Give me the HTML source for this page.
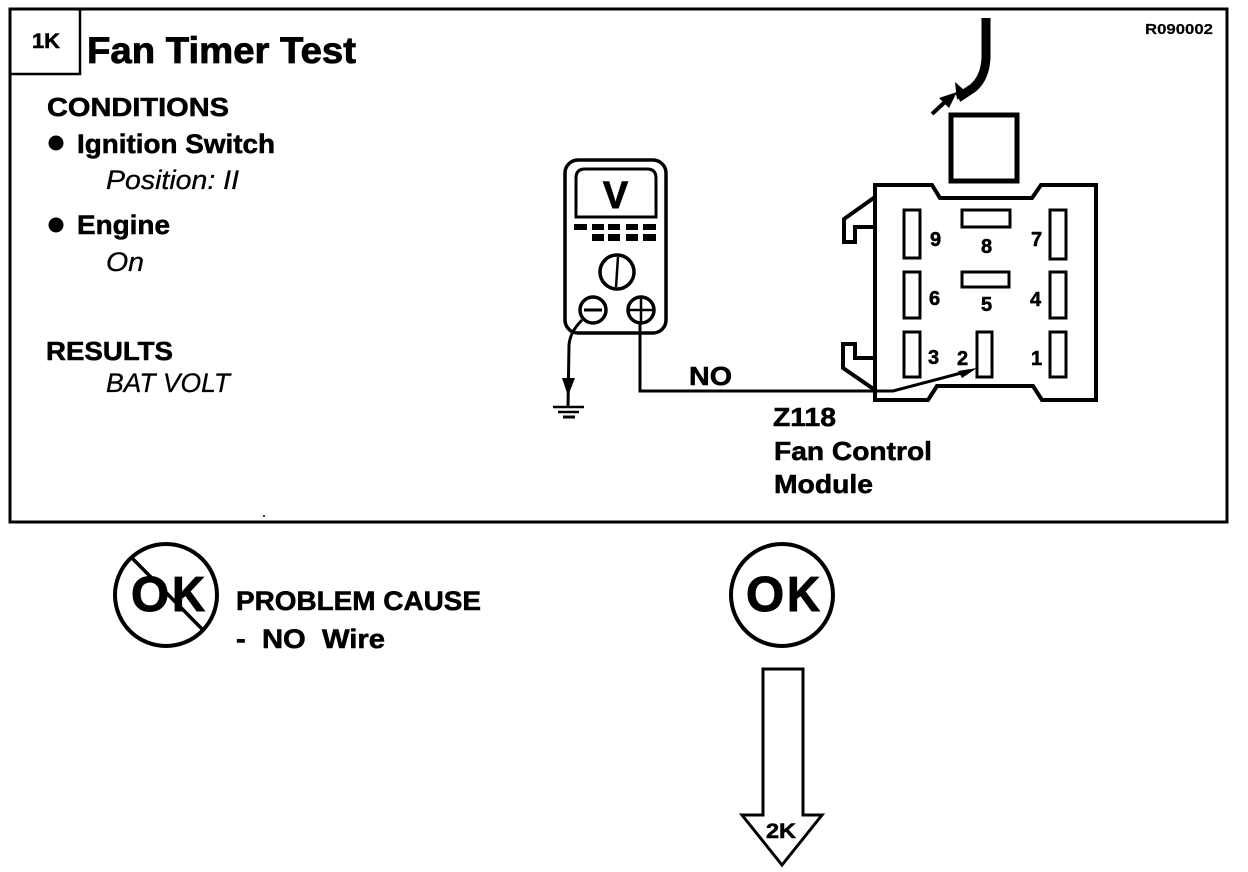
<!DOCTYPE html>
<html><head><meta charset="utf-8"><style>
html,body{margin:0;padding:0;background:#fff}
svg{display:block}
text{font-family:"Liberation Sans",sans-serif;font-weight:bold;fill:#000;stroke:#000;stroke-width:.55px}
.i{font-style:italic;font-weight:normal;stroke-width:.3px}
.s{fill:none;stroke:#000}
</style></head><body>
<svg width="1248" height="872" viewBox="0 0 1248 872" xmlns="http://www.w3.org/2000/svg">
<rect x="10" y="9" width="1217" height="513" class="s" stroke-width="3"/>
<rect x="10" y="9" width="70" height="65" class="s" stroke-width="2.5"/>
<text x="32" y="48" font-size="21" textLength="28" lengthAdjust="spacingAndGlyphs">1K</text>
<text x="87" y="63" font-size="37" textLength="269" lengthAdjust="spacingAndGlyphs" style="stroke-width:.8px">Fan Timer Test</text>
<text x="1145" y="34" font-size="15" font-weight="normal" textLength="68" lengthAdjust="spacingAndGlyphs" style="stroke-width:.2px">R090002</text>
<text x="47" y="116" font-size="26" textLength="182" lengthAdjust="spacingAndGlyphs">CONDITIONS</text>
<circle cx="56" cy="143" r="7.5"/>
<text x="77" y="153" font-size="27" textLength="198" lengthAdjust="spacingAndGlyphs">Ignition Switch</text>
<text x="106" y="189" font-size="27" class="i" textLength="133" lengthAdjust="spacingAndGlyphs">Position: II</text>
<circle cx="56" cy="225" r="7.5"/>
<text x="77" y="234" font-size="27" textLength="93" lengthAdjust="spacingAndGlyphs">Engine</text>
<text x="106" y="271" font-size="27" class="i" textLength="38" lengthAdjust="spacingAndGlyphs">On</text>
<text x="46" y="360" font-size="26" textLength="127" lengthAdjust="spacingAndGlyphs">RESULTS</text>
<text x="106" y="392" font-size="27" class="i" textLength="124" lengthAdjust="spacingAndGlyphs">BAT VOLT</text>

<!-- meter -->
<rect x="565" y="160" width="101" height="173" rx="13" class="s" stroke-width="3.5"/>
<path d="M576 217V178Q576 169 585 169H647Q656 169 656 178V217Z" class="s" stroke-width="3"/>
<text x="603" y="208" font-size="38" textLength="25" lengthAdjust="spacingAndGlyphs" style="stroke-width:1px">V</text>
<g>
<rect x="574" y="224" width="13" height="6"/><rect x="592" y="224" width="12" height="6"/><rect x="608" y="224" width="12" height="6"/><rect x="626" y="224" width="12" height="6"/><rect x="643" y="224" width="13" height="6"/>
<rect x="592" y="234" width="12" height="7"/><rect x="608" y="234" width="12" height="7"/><rect x="626" y="234" width="12" height="7"/><rect x="643" y="234" width="13" height="7"/>
</g>
<circle cx="617" cy="272" r="17" class="s" stroke-width="3.5"/>
<path d="M618 257L616 287" class="s" stroke-width="2.5"/>
<circle cx="593" cy="310" r="13" fill="#fff" stroke="#000" stroke-width="3.5"/>
<path d="M584 310H602" class="s" stroke-width="3"/>
<circle cx="641" cy="310" r="13" fill="#fff" stroke="#000" stroke-width="3.5"/>
<path d="M628 310H654M641 297V323" class="s" stroke-width="2.5"/>
<path d="M582 320Q570 332 569 345L568 407" class="s" stroke-width="3"/>
<path d="M562 378H575L568 396Z"/>
<path d="M553 407H584M558 412H579" class="s" stroke-width="2.5"/>
<path d="M563 417H575" class="s" stroke-width="3"/>
<!-- wire -->
<path d="M640 323V391H893L965 372" class="s" stroke-width="3"/>
<path d="M977 368L958 371L962 378Z"/>
<text x="689" y="385" font-size="26" textLength="43" lengthAdjust="spacingAndGlyphs">NO</text>

<!-- connector -->
<path d="M875 185H932L940 198H1032L1041 185H1096V400H1042L1033 386H937L928 400H875Z" class="s" stroke-width="4"/>
<path d="M875 197L844 219V242H855V227H875" class="s" stroke-width="4"/>
<path d="M875 390L843 368V344H855V358H875" class="s" stroke-width="4"/>
<g class="s" stroke-width="3">
<rect x="904" y="210" width="16" height="48"/>
<rect x="962" y="210" width="48" height="17"/>
<rect x="1050" y="210" width="16" height="49"/>
<rect x="904" y="272" width="16" height="46"/>
<rect x="962" y="272" width="47" height="15"/>
<rect x="1050" y="272" width="16" height="46"/>
<rect x="904" y="332" width="16" height="45"/>
<rect x="977" y="332" width="15" height="45"/>
<rect x="1050" y="332" width="16" height="45"/>
</g>
<g font-size="20">
<text x="930" y="246">9</text><text x="981" y="253">8</text><text x="1031" y="246">7</text>
<text x="929" y="305">6</text><text x="981" y="311">5</text><text x="1030" y="306">4</text>
<text x="928" y="364">3</text><text x="957" y="365">2</text><text x="1031" y="365">1</text>
</g>
<rect x="951" y="115" width="66" height="66" class="s" stroke-width="5"/>
<path d="M986 18V58Q985 78 973 88L958 98" class="s" stroke-width="9"/>
<path d="M955 82L964 90L957 100Z"/>
<path d="M932 114L946 101" class="s" stroke-width="4"/>
<path d="M957 92L939 98L949 108Z"/>

<text x="773" y="426" font-size="26" textLength="63" lengthAdjust="spacingAndGlyphs">Z118</text>
<text x="774" y="460" font-size="26" textLength="158" lengthAdjust="spacingAndGlyphs">Fan Control</text>
<text x="774" y="493" font-size="26" textLength="99" lengthAdjust="spacingAndGlyphs">Module</text>
<circle cx="264" cy="516" r="1"/>

<!-- not OK -->
<circle cx="166" cy="595" r="51" class="s" stroke-width="4"/>
<text x="131" y="611" font-size="49" style="stroke-width:1px">O</text>
<text x="172" y="611" font-size="49" textLength="33" lengthAdjust="spacingAndGlyphs" style="stroke-width:1px">K</text>
<path d="M132 558L202 629" class="s" stroke-width="3.5"/>
<text x="236" y="610" font-size="27" textLength="245" lengthAdjust="spacingAndGlyphs">PROBLEM CAUSE</text>
<text x="236" y="648" font-size="27" textLength="149" lengthAdjust="spacingAndGlyphs" xml:space="preserve">-  NO  Wire</text>

<!-- OK -->
<circle cx="782" cy="595" r="51" class="s" stroke-width="4"/>
<text x="746" y="611" font-size="49" style="stroke-width:1px">O</text>
<text x="787" y="611" font-size="49" textLength="33" lengthAdjust="spacingAndGlyphs" style="stroke-width:1px">K</text>

<!-- arrow -->
<path d="M763 669H803V815H822L782 865L742 815H763Z" class="s" stroke-width="3"/>
<text x="766" y="838" font-size="21" textLength="30" lengthAdjust="spacingAndGlyphs">2K</text>
</svg>
</body></html>
